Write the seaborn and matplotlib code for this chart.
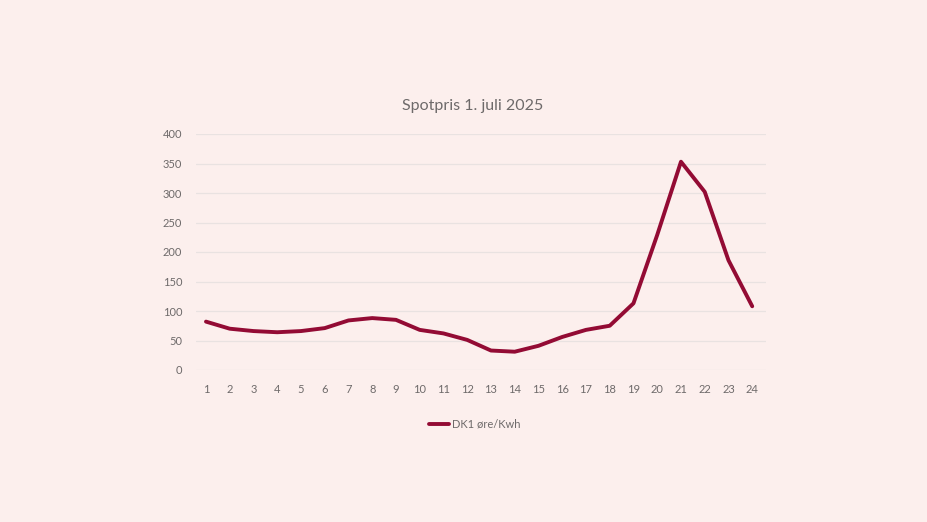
import matplotlib
matplotlib.use("Agg")
import matplotlib.pyplot as plt
import seaborn as sns
import pandas as pd

hours = list(range(1, 25))
prices = [82, 70, 66, 64, 66, 71, 84, 88, 85, 68, 62, 51, 33, 31, 41, 56, 68, 75,
          113, 229, 353, 302, 186, 108]
series_name = "DK1 øre/Kwh"
title = "Spotpris 1. juli 2025"

bg = "#FCEFED"
line_color = "#930B34"
text_color = "#6E6A6A"
grid_color = "#E9E2E1"

sns.set_theme(style="white")
plt.rcParams['font.family'] = ['Lato', 'DejaVu Sans']

df = pd.DataFrame({"hour": hours, "price": prices, "series": series_name})

fig = plt.figure(figsize=(9.28, 5.22), dpi=100, facecolor=bg)
ax = fig.add_axes([196/928, (522-370)/522, (766-196)/928, (370-134)/522])
ax.set_facecolor(bg)

sns.lineplot(data=df, x="hour", y="price", hue="series", palette=[line_color],
             linewidth=2.8, ax=ax, legend=True)

ax.set_xlim(0.58, 24.58)
ax.set_ylim(0, 400)
ax.set_xticks(hours)
ax.set_xticklabels([str(h) for h in hours])
ax.set_yticks(range(0, 401, 50))
ax.tick_params(axis="both", length=0, labelsize=8, labelcolor=text_color)
ax.tick_params(axis="x", pad=10)
ax.tick_params(axis="y", pad=10)
ax.grid(axis="y", color=grid_color, linewidth=0.9)
ax.set_axisbelow(True)
for s in ax.spines.values():
    s.set_visible(False)
ax.set_xlabel("")
ax.set_ylabel("")

fig.text(473/928, 1 - 106/522, title, ha="center", va="center",
         fontsize=11.5, color=text_color)

handles, labels = ax.get_legend_handles_labels()
ax.legend(handles, labels, loc="center", bbox_to_anchor=(475/928, 1 - 424/522),
          bbox_transform=fig.transFigure, frameon=False, fontsize=8,
          labelcolor=text_color, handlelength=1.8, handletextpad=0.3)

fig.savefig("out.png", dpi=100, facecolor=bg)
